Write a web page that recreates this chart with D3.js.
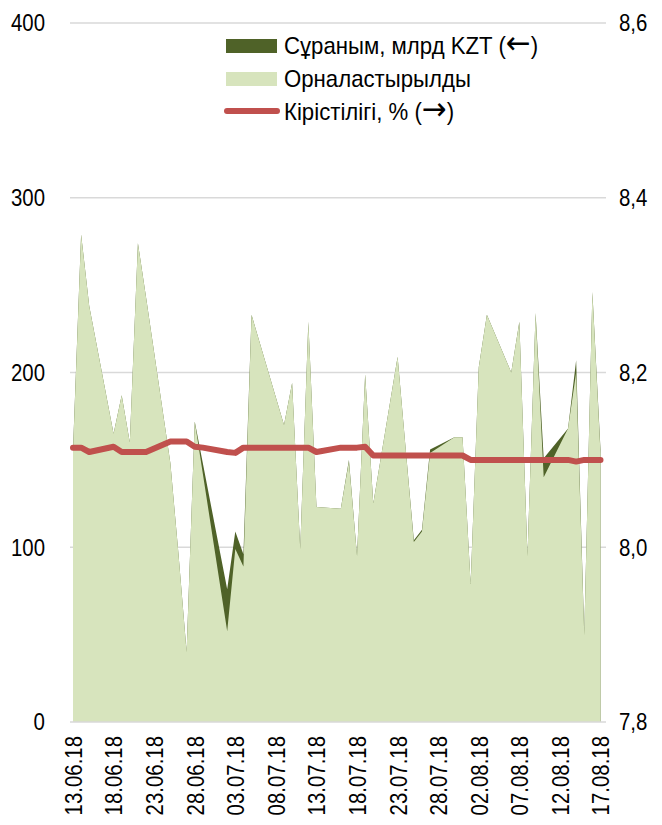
<!DOCTYPE html>
<html><head><meta charset="utf-8">
<script src="https://cdn.jsdelivr.net/npm/d3@7"></script>
<style>html,body{margin:0;padding:0;background:#fff;}svg{display:block;}</style>
</head><body>
<script>
// ---- DATA ----
const dates = ["13.06.18","14.06.18","15.06.18","18.06.18","19.06.18","20.06.18","21.06.18","22.06.18",
 "25.06.18","26.06.18","27.06.18","28.06.18","29.06.18","02.07.18","03.07.18","04.07.18","05.07.18",
 "09.07.18","10.07.18","11.07.18","12.07.18","13.07.18","16.07.18","17.07.18","18.07.18","19.07.18","20.07.18",
 "23.07.18","24.07.18","25.07.18","26.07.18","27.07.18","30.07.18","31.07.18","01.08.18","02.08.18","03.08.18",
 "06.08.18","07.08.18","08.08.18","09.08.18","10.08.18","13.08.18","14.08.18","15.08.18","16.08.18","17.08.18"];
const placed = [155,279,238,165,187,160,274,243,
 148,96,40,172,142,52,99,89,233,
 170,194,99,229,123,122,149,95,199,125,
 209,156,103,109,154,163,163,79,203,233,
 200,229,95,234,140,168,200,50,246,154];
const demand = [156,279,238,165,187,160,274,243,
 148,96,40,172,148,76,109,96,233,
 170,194,99,229,123,122,150,95,199,125,
 209,156,104,110,156,163,163,79,203,233,
 200,229,95,234,151,168,207,50,246,156];
const yieldPct = [8.114,8.114,8.109,8.115,8.109,8.109,8.109,8.109,
 8.121,8.121,8.121,8.115,8.114,8.109,8.108,8.114,8.114,
 8.114,8.114,8.114,8.114,8.109,8.114,8.114,8.114,8.115,8.105,
 8.105,8.105,8.105,8.105,8.105,8.105,8.105,8.100,8.100,8.100,
 8.100,8.100,8.100,8.100,8.100,8.100,8.098,8.100,8.100,8.100];
const xTickLabels = ["13.06.18","18.06.18","23.06.18","28.06.18","03.07.18","08.07.18","13.07.18",
 "18.07.18","23.07.18","28.07.18","02.08.18","07.08.18","12.08.18","17.08.18"];
const leftTicks = [0,100,200,300,400];
const rightTicks = [7.8,8.0,8.2,8.4,8.6];
const seriesNames = [["Сұраным, млрд KZT (","←",")"],["Орналастырылды"],["Кірістілігі, % (","→",")"]];
const colors = {demand:"#4f6228", placed:"#d7e4bd", yield:"#c0504d", grid:"#d9d9d9", text:"#000"};

// ---- CHART ----
const W = 662, H = 825;
const parse = d3.timeParse("%d.%m.%y");
const svg = d3.select("body").append("svg").attr("width", W).attr("height", H);

const FAMILY = "'Liberation Sans',Arial,sans-serif";

// axis labels: condensed along the writing direction via textLength
function axisTxt(g, x, y, s, anchor, size, squeeze, rot){
  const tr = `translate(${x},${y})` + (rot ? ` rotate(${rot})` : "");
  const t = g.append("text").attr("transform", tr)
    .attr("font-family", FAMILY).attr("font-size", size).attr("fill", colors.text)
    .attr("text-anchor", anchor).attr("dy", "0.35em").text(s);
  const len = t.node().getComputedTextLength();
  t.attr("textLength", (len * squeeze).toFixed(1)).attr("lengthAdjust", "spacingAndGlyphs");
  return t;
}
// legend labels: condensed by a horizontal scale
function legendTxt(g, x, y, parts, size, squeeze, arrowSize){
  const t = g.append("text").attr("transform", `translate(${x},${y}) scale(${squeeze},1)`)
    .attr("font-family", FAMILY).attr("font-size", size).attr("fill", colors.text)
    .attr("dy", "0.35em");
  parts.forEach(p => {
    const s = t.append("tspan").text(p);
    if (p === "←" || p === "→") s.attr("font-family", "'DejaVu Sans',sans-serif").attr("font-size", arrowSize);
  });
  return t;
}

const x = d3.scaleTime().domain([parse(dates[0]), parse(dates[dates.length-1])]).range([73, 600.5]);
const yL = d3.scaleLinear().domain([0, 400]).range([722, 23]);
const yR = d3.scaleLinear().domain([7.8, 8.6]).range([722, 23]);

const data = dates.map((d,i) => ({date: parse(d), placed: placed[i], demand: demand[i], y: yieldPct[i]}));

// gridlines
svg.append("g").selectAll("line").data(leftTicks.slice(1)).join("line")
  .attr("x1", 70).attr("x2", 606).attr("y1", d => yL(d)).attr("y2", d => yL(d))
  .attr("stroke", colors.grid).attr("stroke-width", 1.5);

// areas
const areaD = d3.area().x(d => x(d.date)).y0(yL(0)).y1(d => yL(d.demand));
const areaP = d3.area().x(d => x(d.date)).y0(yL(0)).y1(d => yL(d.placed));
svg.append("path").datum(data).attr("d", areaD).attr("fill", colors.demand);
svg.append("path").datum(data).attr("d", areaP).attr("fill", colors.placed);

// baseline
svg.append("line").attr("x1", 70).attr("x2", 606).attr("y1", yL(0)).attr("y2", yL(0))
  .attr("stroke", colors.grid).attr("stroke-width", 1.5);

// yield line
const line = d3.line().x(d => x(d.date)).y(d => yR(d.y));
svg.append("path").datum(data).attr("d", line).attr("fill", "none")
  .attr("stroke", colors.yield).attr("stroke-width", 6).attr("stroke-linejoin", "round").attr("stroke-linecap", "round");

// axes labels
const gl = svg.append("g");
leftTicks.forEach(t => axisTxt(gl, 45, yL(t), String(t), "end", 24, 0.85));
const fmtR = v => d3.format(".1f")(v).replace(".", ",");
rightTicks.forEach(t => axisTxt(gl, 619, yR(t), fmtR(t), "start", 24, 0.85));
xTickLabels.forEach(s => axisTxt(gl, x(parse(s)) + 0.5, 736, s, "end", 24, 0.85, -90));

// legend
const lg = svg.append("g");
lg.append("rect").attr("x", 226).attr("y", 39).attr("width", 51).attr("height", 14).attr("fill", colors.demand);
lg.append("rect").attr("x", 226).attr("y", 72).attr("width", 51).attr("height", 14).attr("fill", colors.placed);
lg.append("line").attr("x1", 227).attr("x2", 277).attr("y1", 111).attr("y2", 111)
  .attr("stroke", colors.yield).attr("stroke-width", 6).attr("stroke-linecap", "round");
legendTxt(lg, 284, 46, seriesNames[0], 24, 0.925, 32);
legendTxt(lg, 284, 79, seriesNames[1], 24, 0.925, 32);
legendTxt(lg, 284, 112, seriesNames[2], 24, 0.925, 32);
</script>
</body></html>
